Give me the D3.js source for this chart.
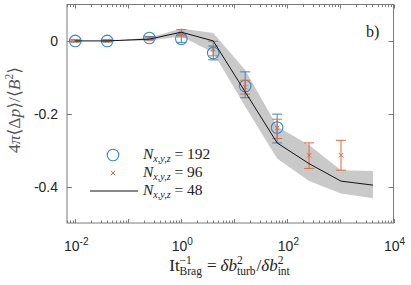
<!DOCTYPE html>
<html><head><meta charset="utf-8">
<script src="https://cdn.jsdelivr.net/npm/d3@7"></script>
<style>html,body{margin:0;padding:0;background:#fff;}svg{display:block;}</style>
</head><body>
<svg id="chart" width="411" height="285"></svg>
<script>
// ---- data ----
const xs192 = [0.01, 0.04, 0.25, 1, 4, 16, 64];
const y192  = [0, 0, 0.008, 0.006, -0.033, -0.124, -0.238];
const lo192 = [-0.003, -0.003, 0.004, -0.004, -0.052, -0.156, -0.280];
const hi192 = [0.003, 0.003, 0.012, 0.016, -0.014, -0.085, -0.201];

const xs96 = [0.01, 0.04, 0.25, 1, 4, 16, 64, 256, 1024];
const y96  = [0, 0, 0.006, 0.021, -0.022, -0.127, -0.239, -0.314, -0.314];
const lo96 = [-0.002, -0.002, 0.002, 0.011, -0.041, -0.146, -0.268, -0.350, -0.355];
const hi96 = [0.002, 0.002, 0.010, 0.031, -0.001, -0.108, -0.215, -0.280, -0.273];

const xs48 = [0.01, 0.04, 0.25, 1, 4, 16, 64, 256, 1024, 4096];
const y48  = [0, 0, 0.005, 0.024, 0, -0.140, -0.280, -0.337, -0.385, -0.396];
const bandLo48 = [0, 0, 0.001, 0.012, -0.032, -0.180, -0.323, -0.385, -0.419, -0.432];
const bandHi48 = [0, 0, 0.009, 0.034, 0.022, -0.080, -0.235, -0.286, -0.355, -0.357];

const yTicks = [0, -0.2, -0.4];
const yTickLabels = ["0", "-0.2", "-0.4"];
const xTickExps = [-2, 0, 2, 4];
const legendLabels = ["192", "96", "48"];

// ---- layout ----
const L = 67, R = 393.5, T = 4.5, B = 223;
const svg = d3.select("#chart");
const x = d3.scaleLog().domain([0.007, 1e4]).range([L, R]);
const y = d3.scaleLinear().domain([-0.5, 0.1]).range([B, T]);

const blue = "#2f88d2", orange = "#e2693c", axisCol = "#7a7a7a";
const serif = "'Liberation Serif','DejaVu Serif',serif";
const sans = "'Liberation Sans',Arial,sans-serif";

const plot = svg.append("g");

// band
const bandData = xs48.map((v,i)=>({x:v, lo:bandLo48[i], hi:bandHi48[i]}));
plot.append("path").datum(bandData)
  .attr("fill","#c9c9c9").attr("stroke","none")
  .attr("d", d3.area().x(d=>x(d.x)).y0(d=>y(d.lo)).y1(d=>y(d.hi)));

const cap = 5;
function errBars(xs, lo, hi, col, w){
  const g = plot.append("g").attr("stroke", col).attr("stroke-width", w).attr("fill","none");
  xs.forEach((v,i)=>{
    const cx = x(v);
    g.append("line").attr("x1",cx).attr("x2",cx).attr("y1",y(lo[i])).attr("y2",y(hi[i]));
    g.append("line").attr("x1",cx-cap).attr("x2",cx+cap).attr("y1",y(lo[i])).attr("y2",y(lo[i]));
    g.append("line").attr("x1",cx-cap).attr("x2",cx+cap).attr("y1",y(hi[i])).attr("y2",y(hi[i]));
  });
}
errBars(xs192, lo192, hi192, blue, 1);
plot.append("g").selectAll("circle").data(xs192).join("circle")
  .attr("cx", d=>x(d)).attr("cy", (d,i)=>y(y192[i])).attr("r", 5.8)
  .attr("fill","none").attr("stroke",blue).attr("stroke-width",1.1);

errBars(xs96, lo96, hi96, orange, 1);
const xm = 2.2;
function xMark(g, cx, cy){
  g.append("path").attr("d", `M${cx-xm},${cy-xm}L${cx+xm},${cy+xm}M${cx-xm},${cy+xm}L${cx+xm},${cy-xm}`)
    .attr("stroke", orange).attr("stroke-width",1).attr("fill","none");
}
const gx = plot.append("g");
xs96.forEach((v,i)=>xMark(gx, x(v), y(y96[i])));

// line
plot.append("path").datum(xs48.map((v,i)=>[v,y48[i]]))
  .attr("fill","none").attr("stroke","#111").attr("stroke-width",1)
  .attr("d", d3.line().x(d=>x(d[0])).y(d=>y(d[1])));

// ---- axes box and ticks ----
const ax = svg.append("g").attr("stroke", axisCol).attr("stroke-width",1).attr("fill","none");
ax.append("rect").attr("x",L).attr("y",T).attr("width",R-L).attr("height",B-T);
for (let e=-3; e<=4; e++){
  for (let k=1; k<=9; k++){
    const v = k*Math.pow(10,e);
    if (v < 0.007 || v > 1e4) continue;
    const px = Math.round(x(v))+0.5;
    const len = k===1 ? 4 : 2.5;
    ax.append("line").attr("x1",px).attr("x2",px).attr("y1",B).attr("y2",B-len);
    ax.append("line").attr("x1",px).attr("x2",px).attr("y1",T).attr("y2",T+len);
  }
}
yTicks.forEach(v=>{
  const py = Math.round(y(v))+0.5;
  ax.append("line").attr("x1",L).attr("x2",L+5).attr("y1",py).attr("y2",py);
  ax.append("line").attr("x1",R-5).attr("x2",R).attr("y1",py).attr("y2",py);
});

const labCol = "#262626";
svg.append("g").selectAll("text").data(yTicks).join("text")
  .attr("x", L-9).attr("y", d=>y(d)+5)
  .attr("text-anchor","end").attr("font-family",sans).attr("font-size",14).attr("fill",labCol)
  .text((d,i)=>yTickLabels[i]);

xTickExps.forEach(e=>{
  const t = svg.append("text").attr("x", x(Math.pow(10,e))+1).attr("y", 251)
    .attr("text-anchor","middle").attr("font-family",sans).attr("font-size",14).attr("fill",labCol);
  t.append("tspan").text("10");
  t.append("tspan").attr("font-size",10).attr("dy",-6).text(e<0 ? "-"+(-e) : String(e));
});

// x axis label built from pieces with measured widths
const xlg = svg.append("g");
let cx0 = 0;
const baseY = 271;
function piece(str, opts){
  const t = xlg.append("text").attr("x", cx0 + (opts.dx||0)).attr("y", baseY + (opts.dy||0))
    .attr("font-family",serif).attr("font-size",opts.size||17).attr("fill","#222")
    .attr("font-style", opts.italic ? "italic" : "normal").text(str);
  return t.node().getComputedTextLength();
}
function supsub(sup, sub){
  const a = piece(sup, {size:11.5, dy:-7});
  const b = piece(sub, {size:11.5, dy:4});
  cx0 += Math.max(a,b) + 1;
}
cx0 += piece("It", {});
supsub("−1", "Brag");
cx0 += 4;
cx0 += piece("=", {});
cx0 += 4;
cx0 += piece("δ", {italic:true});
cx0 += piece("b", {italic:true});
supsub("2", "turb");
cx0 += piece("/", {});
cx0 += piece("δ", {italic:true});
cx0 += piece("b", {italic:true});
supsub("2", "int");
xlg.attr("transform", `translate(${230 - cx0/2},0)`);

// y axis label
const yl = svg.append("text").attr("transform","translate(20,110) rotate(-90)").attr("text-anchor","middle")
  .attr("font-family",serif).attr("font-size",17.5).attr("fill","#555");
yl.append("tspan").text("4");
yl.append("tspan").attr("font-style","italic").text("π");
yl.append("tspan").text("⟨Δ");
yl.append("tspan").attr("font-style","italic").text("p");
yl.append("tspan").text("⟩/⟨");
yl.append("tspan").attr("font-style","italic").text("B");
yl.append("tspan").attr("font-size",11.5).attr("dy",-7).text("2");
yl.append("tspan").attr("dy",7).text("⟩");

svg.append("text").attr("x",366).attr("y",37).attr("font-family",serif).attr("font-size",16)
  .attr("fill","#222").text("b)");

// legend
const lg = svg.append("g");
const rowY = [155, 173, 191];
lg.append("circle").attr("cx",113).attr("cy",rowY[0]).attr("r",5.8).attr("fill","none")
  .attr("stroke",blue).attr("stroke-width",1.1);
(function(){ const cx=113, cy=rowY[1];
  lg.append("path").attr("d",`M${cx-xm},${cy-xm}L${cx+xm},${cy+xm}M${cx-xm},${cy+xm}L${cx+xm},${cy-xm}`)
    .attr("stroke",orange).attr("stroke-width",1);
})();
lg.append("line").attr("x1",90).attr("x2",138).attr("y1",rowY[2]).attr("y2",rowY[2])
  .attr("stroke","#111").attr("stroke-width",1);
legendLabels.forEach((s,i)=>{
  const t = lg.append("text").attr("x",143).attr("y",rowY[i]+4).attr("font-family",serif)
    .attr("font-size",15.5).attr("fill","#222");
  t.append("tspan").attr("font-style","italic").text("N");
  t.append("tspan").attr("font-style","italic").attr("font-size",10).attr("dy",3).text("x,y,z");
  t.append("tspan").attr("dy",-3).text("\u00a0=\u00a0"+s);
});
</script>
</body></html>
